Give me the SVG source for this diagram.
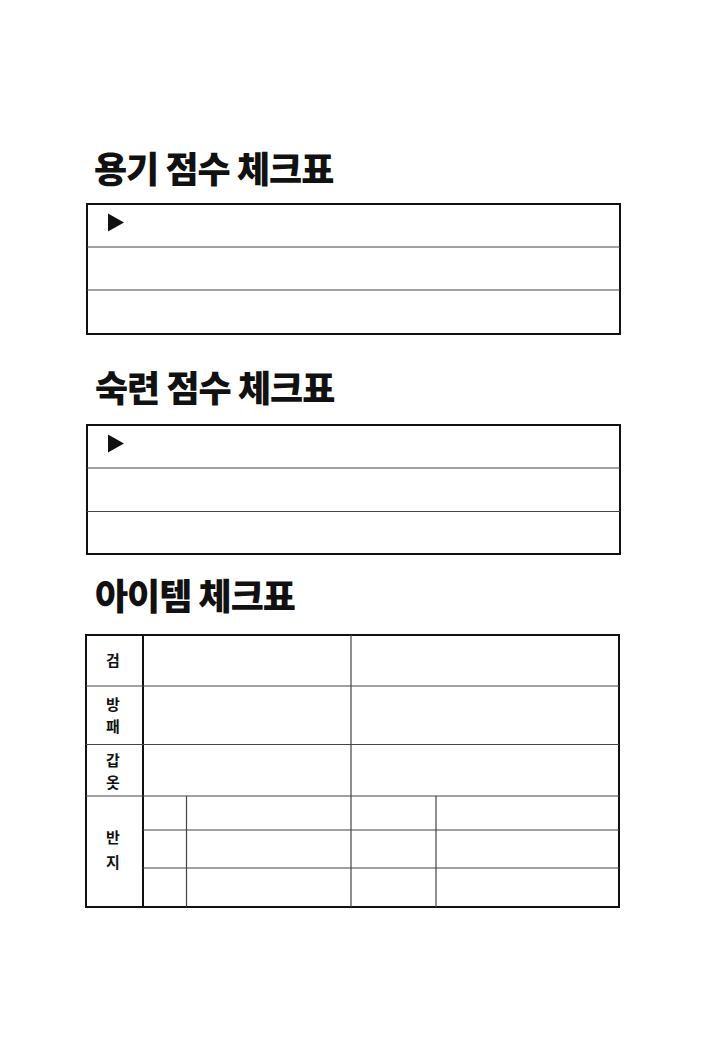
<svg xmlns="http://www.w3.org/2000/svg" width="709" height="1039" viewBox="0 0 709 1039">
<style>
.title{font-family:"Noto Sans CJK KR","Noto Sans",sans-serif;font-weight:900;font-size:36px;letter-spacing:-1px;fill:#111}
.lbl{font-family:"Noto Sans CJK KR","Noto Sans",sans-serif;font-weight:700;font-size:15px;fill:#111;text-anchor:middle}
.frame{fill:none;stroke:#111;stroke-width:2}
.rule{stroke:#444;stroke-width:1.2;fill:none}
.tri{fill:#111}
</style>
<rect width="709" height="1039" fill="#fff"/>
<g id="title1"><text class="title" x="94" y="183">용기 점수 체크표</text></g>
<g id="table1">
<rect class="frame" x="87" y="204" width="533" height="130"/>
<line class="rule" x1="87" y1="247" x2="620" y2="247"/>
<line class="rule" x1="87" y1="290" x2="620" y2="290"/>
<polygon class="tri" points="108,213.5 124,222.5 108,231.5"/>
</g>
<g id="title2"><text class="title" x="95" y="402">숙련 점수 체크표</text></g>
<g id="table2">
<rect class="frame" x="87" y="425" width="533" height="129"/>
<line class="rule" x1="87" y1="468" x2="620" y2="468"/>
<line class="rule" x1="87" y1="511.5" x2="620" y2="511.5"/>
<polygon class="tri" points="108,434.5 124,443.5 108,452.5"/>
</g>
<g id="title3"><text class="title" x="95" y="610">아이템 체크표</text></g>
<g id="table3">
<rect class="frame" x="86" y="635" width="533" height="272"/>
<line class="frame" x1="143" y1="635" x2="143" y2="907"/>
<line class="rule" x1="86" y1="686" x2="619" y2="686"/>
<line class="rule" x1="86" y1="744.5" x2="619" y2="744.5"/>
<line class="rule" x1="86" y1="796" x2="619" y2="796"/>
<line class="rule" x1="143" y1="830" x2="619" y2="830"/>
<line class="rule" x1="143" y1="868" x2="619" y2="868"/>
<line class="rule" x1="351" y1="635" x2="351" y2="907"/>
<line class="rule" x1="186.5" y1="796" x2="186.5" y2="907"/>
<line class="rule" x1="436" y1="796" x2="436" y2="907"/>
<text class="lbl" x="113" y="666">검</text>
<text class="lbl" x="113" y="709.5">방</text>
<text class="lbl" x="113" y="731.5">패</text>
<text class="lbl" x="113" y="766">갑</text>
<text class="lbl" x="113" y="788">옷</text>
<text class="lbl" x="113" y="843">반</text>
<text class="lbl" x="113" y="868">지</text>
</g>
</svg>
